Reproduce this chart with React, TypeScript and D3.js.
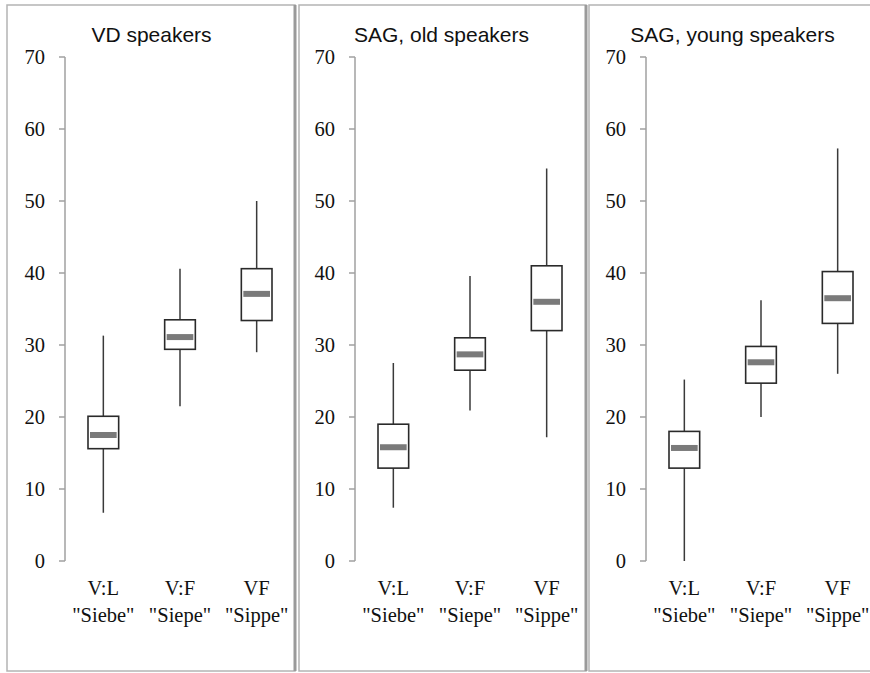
import React from 'react';
import * as d3 from 'd3';

// Vowel-duration box plots, one panel per speaker group
const panelTitles = ['VD speakers', 'SAG, old speakers', 'SAG, young speakers'];
const categories = ['V:L', 'V:F', 'VF'];
const wordLabels = ['"Siebe"', '"Siepe"', '"Sippe"'];
const yTicks = [0, 10, 20, 30, 40, 50, 60, 70];

// One row per panel, one value per category
const whiskerLow = [
  [6.7, 21.5, 29.0],
  [7.4, 20.9, 17.2],
  [0.0, 20.0, 26.0],
];
const quartile1 = [
  [15.6, 29.4, 33.4],
  [12.9, 26.5, 32.0],
  [12.9, 24.7, 33.0],
];
const medians = [
  [17.5, 31.1, 37.1],
  [15.8, 28.7, 36.0],
  [15.7, 27.6, 36.5],
];
const quartile3 = [
  [20.1, 33.5, 40.6],
  [19.0, 31.0, 41.0],
  [18.0, 29.8, 40.2],
];
const whiskerHigh = [
  [31.3, 40.6, 50.0],
  [27.5, 39.6, 54.5],
  [25.2, 36.2, 57.3],
];

const W = 870;
const H = 673;
const panelLeft = [7, 299, 589];
const panelRight = [295, 586, 873];
const axisX = [65, 355, 646];
const panelTop = 5;
const panelBottom = 671;

const y = d3.scaleLinear().domain([0, 70]).range([561, 57]);

const serif = '"Liberation Serif", "Times New Roman", serif';
const sans = '"Liberation Sans", Arial, sans-serif';

function Panel({ idx }: { idx: number }) {
  const ax = axisX[idx];
  const x = d3.scaleBand<string>().domain(categories).range([ax, ax + 230]).padding(0);
  const boxW = x.bandwidth() * 0.4;
  const titleX = ax + 86.5;
  return (
    <g>
      {/* panel frame */}
      <rect
        x={panelLeft[idx]}
        y={panelTop}
        width={panelRight[idx] - panelLeft[idx]}
        height={panelBottom - panelTop}
        fill="#fff"
        stroke="#b4b4b4"
        strokeWidth={1.5}
      />
      <line
        x1={panelRight[idx]}
        x2={panelRight[idx]}
        y1={panelTop}
        y2={panelBottom}
        stroke="#9a9a9a"
        strokeWidth={3}
      />
      <text x={titleX} y={42} textAnchor="middle" fontFamily={sans} fontSize={21} fill="#111">
        {panelTitles[idx]}
      </text>
      {/* y axis */}
      <line x1={ax} x2={ax} y1={y(0)} y2={y(70)} stroke="#a0a0a0" strokeWidth={1.5} />
      {yTicks.map((t) => (
        <g key={t}>
          <line x1={ax - 6} x2={ax} y1={y(t)} y2={y(t)} stroke="#a0a0a0" strokeWidth={1.5} />
          <text
            x={ax - 20}
            y={y(t)}
            dy="0.35em"
            textAnchor="end"
            fontFamily={serif}
            fontSize={20.5}
            fill="#111"
          >
            {t}
          </text>
        </g>
      ))}
      {/* boxes */}
      {categories.map((c, i) => {
        const cx = (x(c) as number) + x.bandwidth() / 2;
        return (
          <g key={c}>
            <line
              x1={cx}
              x2={cx}
              y1={y(whiskerLow[idx][i])}
              y2={y(whiskerHigh[idx][i])}
              stroke="#3a3a3a"
              strokeWidth={1.5}
            />
            <rect
              x={cx - boxW / 2}
              y={y(quartile3[idx][i])}
              width={boxW}
              height={y(quartile1[idx][i]) - y(quartile3[idx][i])}
              fill="#fff"
              stroke="#2a2a2a"
              strokeWidth={1.6}
            />
            <line
              x1={cx - boxW / 2 + 2}
              x2={cx + boxW / 2 - 2}
              y1={y(medians[idx][i])}
              y2={y(medians[idx][i])}
              stroke="#7a7a7a"
              strokeWidth={6}
            />
            <text x={cx} y={595} textAnchor="middle" fontFamily={serif} fontSize={20.5} fill="#111">
              {c}
            </text>
            <text x={cx} y={622} textAnchor="middle" fontFamily={serif} fontSize={20.5} fill="#111">
              {wordLabels[i]}
            </text>
          </g>
        );
      })}
    </g>
  );
}

export default function App() {
  return (
    <svg
      width={W}
      height={H}
      viewBox={`0 0 ${W} ${H}`}
      style={{ position: 'absolute', left: 0, top: 0, display: 'block', background: '#fff' }}
    >
      <rect x={0} y={0} width={W} height={H} fill="#fff" />
      {panelTitles.map((_, i) => (
        <Panel key={i} idx={i} />
      ))}
    </svg>
  );
}
